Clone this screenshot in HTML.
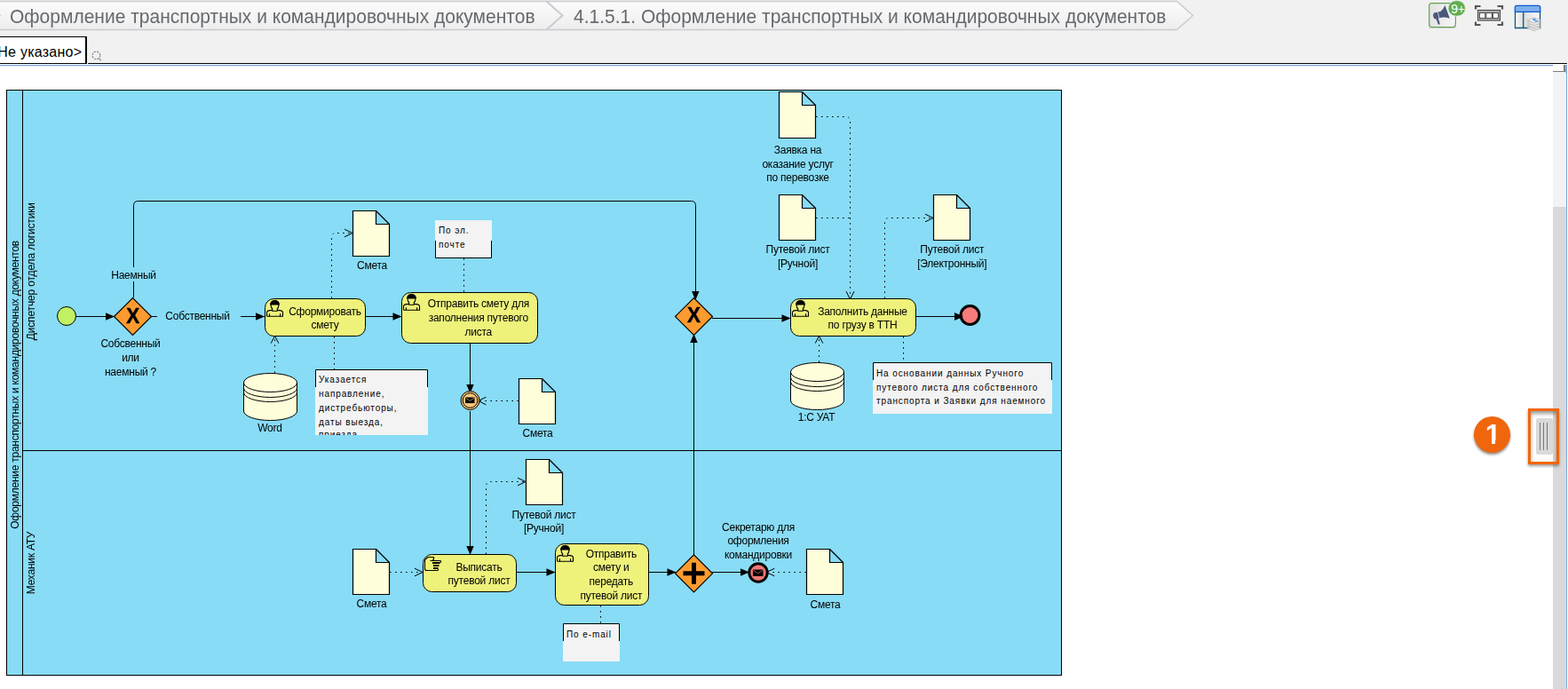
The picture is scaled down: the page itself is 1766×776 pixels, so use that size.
<!DOCTYPE html>
<html lang="ru"><head><meta charset="utf-8"><title>Оформление транспортных и командировочных документов</title>
<style>
html,body{margin:0;padding:0}
body{width:1766px;height:776px;position:relative;overflow:hidden;background:#fff;font-family:"Liberation Sans",Arial,sans-serif}
#top{position:absolute;left:0;top:0;width:1766px;height:71px;background:#F1F1F1}
.crumb{position:absolute;top:6px;will-change:transform;transform:scaleY(1.065);transform-origin:0 20.3px;font-size:21px;line-height:26px;color:#666A6E;white-space:nowrap}
#blk{position:absolute;left:99px;top:71px;width:1666px;height:1px;background:#000}
#blu2{position:absolute;left:0;top:74px;width:1749px;height:1px;background:#D5E3F3}
#blu{position:absolute;left:0;top:73px;width:1749px;height:1px;background:#7DA7D9}
#tab{position:absolute;left:-4px;top:41px;width:102px;height:31px;border:1px solid #000;border-right-width:2px;background:#fff;box-sizing:border-box;font-size:16px;line-height:32px;letter-spacing:0.25px;white-space:nowrap;color:#000;overflow:hidden}
#tab span{position:absolute;right:3.7px;top:1px}
#sb{position:absolute;left:1749px;top:74px;width:15px;height:702px;background:#F2F3F3}
#sb2{position:absolute;left:1749px;top:233px;width:15px;height:543px;background:#D9D9D9}
#sbr{position:absolute;left:1764px;top:73px;width:1px;height:703px;background:#7DA7D9}
#sbt{position:absolute;left:1749px;top:73px;width:12px;height:6.5px;background:#FBFBFB;border-right:2px solid #808080;border-bottom:1.5px solid #7C7C7C}
#sbb{position:absolute;left:1763px;top:73px;width:1px;height:9px;background:#8DB2DF}
#one{position:absolute;left:1660px;top:469px;width:41px;height:41px;border-radius:50%;background:#F0660D;color:#fff;font-weight:bold;font-size:31px;line-height:41px;text-align:center;text-indent:2px;box-shadow:0 2px 3px rgba(0,0,0,.45)}
#one span{position:relative;display:inline-block;text-indent:0}
#one i{position:absolute;top:26.5px;height:7px;background:#F0660D}
#hl{position:absolute;left:1721px;top:460px;width:35px;height:63px;box-sizing:border-box;border:3px solid #F0660D;box-shadow:0 2px 3px rgba(0,0,0,.4), inset 0 3px 4px rgba(0,0,0,.4)}
#hd{position:absolute;left:1730px;top:471px;width:19px;height:41px;background:#DADADA;border-radius:2px}
#hd i{position:absolute;top:5px;width:1px;height:31px;background:#777}
svg text{font-family:"Liberation Sans",Arial,sans-serif;fill:#000}
</style></head><body>
<div id="top">
<svg style="position:absolute;left:0;top:0" width="1400" height="36"><defs><linearGradient id="cg" x1="0" y1="0" x2="0" y2="1"><stop offset="0" stop-color="#FCFCFC"/><stop offset="1" stop-color="#EDEDEE"/></linearGradient></defs><path d="M-5 1.5H1325.5L1343.5 17.5L1325.5 33.5H-5Z" fill="url(#cg)" stroke="#C8CBD0" stroke-width="1.4"/><path d="M615.5 1.5L633.5 17.5L615.5 33.5" fill="none" stroke="#C8CBD0" stroke-width="2"/><path d="M-4 13.5L0.3 17.5L-4 21.5" fill="none" stroke="#C8CBD0" stroke-width="1.5"/></svg>
<div class="crumb" style="left:11px">Оформление транспортных и командировочных документов</div>
<div class="crumb" style="left:645.5px">4.1.5.1. Оформление транспортных и командировочных документов</div>
<div id="tab"><span>&lt;Не указано&gt;</span></div>
</div>
<div id="blk"></div><div id="blu"></div><div id="blu2"></div>
<div id="sb"></div><div id="sb2"></div><div id="sbr"></div><div id="sbt"></div><div id="sbb"></div>
<svg id="dg" style="position:absolute;left:0;top:0" width="1210" height="776" viewBox="0 0 1210 776">
<rect x="7.5" y="101.5" width="1188" height="659" fill="#88DCF6" stroke="#000"/>
<path d="M25.5 101.5V760.5" fill="none" stroke="#000" stroke-width="1"/>
<path d="M25.5 507.5H1195.5" fill="none" stroke="#000" stroke-width="1"/>
<path d="M86 356.5H128" fill="none" stroke="#000" stroke-width="1"/>
<polygon points="129,356.5 119,352.3 119,360.7" fill="#000"/>
<path d="M150.5 335V231.5Q150.5 226.5 155.5 226.5H778.5Q783.5 226.5 783.5 231.5V335" fill="none" stroke="#000" stroke-width="1"/>
<polygon points="783.3,338 779.1,328 787.5,328" fill="#000"/>
<rect x="125" y="301" width="52" height="16" fill="#88DCF6"/>
<path d="M170 356.5H298" fill="none" stroke="#000" stroke-width="1"/>
<polygon points="298,356.5 288,352.3 288,360.7" fill="#000"/>
<rect x="177" y="348" width="94" height="16" fill="#88DCF6"/>
<path d="M412 356.5H452" fill="none" stroke="#000" stroke-width="1"/>
<polygon points="452.5,356.5 442.5,352.3 442.5,360.7" fill="#000"/>
<path d="M529.5 387V440" fill="none" stroke="#000" stroke-width="1"/>
<polygon points="529.5,443 525.3,433 533.7,433" fill="#000"/>
<path d="M529.5 463V624" fill="none" stroke="#000" stroke-width="1"/>
<polygon points="529.5,625 525.3,615 533.7,615" fill="#000"/>
<path d="M582 644.5H625" fill="none" stroke="#000" stroke-width="1"/>
<polygon points="625.5,644.5 615.5,640.3 615.5,648.7" fill="#000"/>
<path d="M731 644.5H761" fill="none" stroke="#000" stroke-width="1"/>
<polygon points="761.5,644.5 751.5,640.3 751.5,648.7" fill="#000"/>
<path d="M781.5 625V378" fill="none" stroke="#000" stroke-width="1"/>
<polygon points="781.5,376 777.3,386 785.7,386" fill="#000"/>
<path d="M802 644.5H842" fill="none" stroke="#000" stroke-width="1"/>
<polygon points="844,644.5 834,640.3 834,648.7" fill="#000"/>
<path d="M802 358.5H890" fill="none" stroke="#000" stroke-width="1"/>
<polygon points="890.5,358.5 880.5,354.3 880.5,362.7" fill="#000"/>
<path d="M1032 356.5H1080" fill="none" stroke="#000" stroke-width="1"/>
<polygon points="1085,356.5 1075,352.3 1075,360.7" fill="#000"/>
<path d="M373.5 336V267.5Q373.5 262.5 378.5 262.5H397" fill="none" stroke="#000" stroke-width="1" stroke-dasharray="1.6 4.4" />
<path d="M388 258.2L397 262.5L388 266.8" fill="none" stroke="#000" stroke-width="1"/>
<path d="M309.5 420V379" fill="none" stroke="#000" stroke-width="1" stroke-dasharray="1.6 4.4" />
<path d="M305.2 386.59999999999997L309.5 378.4L313.8 386.59999999999997" fill="none" stroke="#000" stroke-width="1"/>
<path d="M376.5 379V416" fill="none" stroke="#000" stroke-width="1" stroke-dasharray="1.6 4.4" />
<path d="M522.5 291V329" fill="none" stroke="#000" stroke-width="1" stroke-dasharray="1.6 4.4" />
<path d="M584 451.5H541" fill="none" stroke="#000" stroke-width="1" stroke-dasharray="1.6 4.4" />
<path d="M547.5 447.2L538.5 451.5L547.5 455.8" fill="none" stroke="#000" stroke-width="1"/>
<path d="M547.5 624V547.5Q547.5 542.5 552.5 542.5H592" fill="none" stroke="#000" stroke-width="1" stroke-dasharray="1.6 4.4" />
<path d="M583 538.2L592 542.5L583 546.8" fill="none" stroke="#000" stroke-width="1"/>
<path d="M439 644.5H476" fill="none" stroke="#000" stroke-width="1" stroke-dasharray="1.6 4.4" />
<path d="M467 640.2L476 644.5L467 648.8" fill="none" stroke="#000" stroke-width="1"/>
<path d="M676.5 682V702" fill="none" stroke="#000" stroke-width="1" stroke-dasharray="1.6 4.4" />
<path d="M908 644.5H867" fill="none" stroke="#000" stroke-width="1" stroke-dasharray="1.6 4.4" />
<path d="M872.3 640.2L863.3 644.5L872.3 648.8" fill="none" stroke="#000" stroke-width="1"/>
<path d="M919 131.5H952.5Q957.5 131.5 957.5 136.5V336" fill="none" stroke="#000" stroke-width="1" stroke-dasharray="1.6 4.4" />
<path d="M953.0 328.2L957.5 337L962.0 328.2" fill="none" stroke="#000" stroke-width="1"/>
<path d="M919 245.5H957" fill="none" stroke="#000" stroke-width="1" stroke-dasharray="1.6 4.4" />
<path d="M996.5 336V250.5Q996.5 245.5 1001.5 245.5H1051" fill="none" stroke="#000" stroke-width="1" stroke-dasharray="1.6 4.4" />
<path d="M1042 241.2L1051 245.5L1042 249.8" fill="none" stroke="#000" stroke-width="1"/>
<path d="M922.5 408V380" fill="none" stroke="#000" stroke-width="1" stroke-dasharray="1.6 4.4" />
<path d="M918.2 386.59999999999997L922.5 378.4L926.8 386.59999999999997" fill="none" stroke="#000" stroke-width="1"/>
<path d="M1017.5 379V408" fill="none" stroke="#000" stroke-width="1" stroke-dasharray="1.6 4.4" />
<circle cx="75" cy="356" r="10.5" fill="#C2F063" stroke="#000"/>
<path d="M128.5 356.5L149.5 335.5L170.5 356.5L149.5 377.5Z" fill="#FD9B30" stroke="#000" stroke-width="1.2"/>
<path d="M760.5 356.5L781.5 335.5L802.5 356.5L781.5 377.5Z" fill="#FD9B30" stroke="#000" stroke-width="1.2"/>
<path d="M760.5 645.8L781.5 624.8L802.5 645.8L781.5 666.8Z" fill="#FD9B30" stroke="#000" stroke-width="1.2"/>
<path d="M769.5 645.7H793.5M781.5 633.7V657.7" stroke="#000" stroke-width="5" fill="none"/>



<rect x="298.5" y="336.5" width="113" height="42" rx="10" ry="10" fill="#EEF27B" stroke="#000"/>
<g transform="translate(300,338)" stroke="#000" stroke-width="1.1" fill="none"><path d="M0.5 18.3V14C0.5 12.3 2.5 11.4 6.6 11.4M12.4 11.4C16.5 11.4 18.5 12.3 18.5 14V18.3H0.5"/><path d="M3.4 18.3V15.2M15.6 18.3V15.2"/><path d="M5.2 4.9V6.4Q5.2 8.6 6.7 9.4V12.3H12.3V9.4Q13.8 8.6 13.8 6.4V4.9"/><path d="M4.6 5A4.9 4.8 0 0 1 14.4 5Z" fill="#000"/></g>


<rect x="452.5" y="329.5" width="153" height="57" rx="10" ry="10" fill="#EEF27B" stroke="#000"/>
<g transform="translate(454,331)" stroke="#000" stroke-width="1.1" fill="none"><path d="M0.5 18.3V14C0.5 12.3 2.5 11.4 6.6 11.4M12.4 11.4C16.5 11.4 18.5 12.3 18.5 14V18.3H0.5"/><path d="M3.4 18.3V15.2M15.6 18.3V15.2"/><path d="M5.2 4.9V6.4Q5.2 8.6 6.7 9.4V12.3H12.3V9.4Q13.8 8.6 13.8 6.4V4.9"/><path d="M4.6 5A4.9 4.8 0 0 1 14.4 5Z" fill="#000"/></g>



<rect x="890.5" y="336.5" width="141" height="42" rx="10" ry="10" fill="#EEF27B" stroke="#000"/>
<g transform="translate(892,338)" stroke="#000" stroke-width="1.1" fill="none"><path d="M0.5 18.3V14C0.5 12.3 2.5 11.4 6.6 11.4M12.4 11.4C16.5 11.4 18.5 12.3 18.5 14V18.3H0.5"/><path d="M3.4 18.3V15.2M15.6 18.3V15.2"/><path d="M5.2 4.9V6.4Q5.2 8.6 6.7 9.4V12.3H12.3V9.4Q13.8 8.6 13.8 6.4V4.9"/><path d="M4.6 5A4.9 4.8 0 0 1 14.4 5Z" fill="#000"/></g>


<rect x="476.5" y="624.5" width="105" height="42" rx="10" ry="10" fill="#EEF27B" stroke="#000"/>
<g transform="translate(478,627)" stroke="#000" stroke-width="1.1" fill="none"><path d="M0.5 3.5L4 0.5H10.5V3L9 4.5M6.5 4.5H18L18.7 5.5L17.5 7M0.5 3.5V13.5Q0.5 15.5 2.5 15.5H15L16 14"/><path d="M9 7H17.5M10 10H16.5M10 13H15.5" stroke-width="1.8"/></g>


<rect x="625.5" y="612.5" width="105" height="69" rx="10" ry="10" fill="#EEF27B" stroke="#000"/>
<g transform="translate(627,614)" stroke="#000" stroke-width="1.1" fill="none"><path d="M0.5 18.3V14C0.5 12.3 2.5 11.4 6.6 11.4M12.4 11.4C16.5 11.4 18.5 12.3 18.5 14V18.3H0.5"/><path d="M3.4 18.3V15.2M15.6 18.3V15.2"/><path d="M5.2 4.9V6.4Q5.2 8.6 6.7 9.4V12.3H12.3V9.4Q13.8 8.6 13.8 6.4V4.9"/><path d="M4.6 5A4.9 4.8 0 0 1 14.4 5Z" fill="#000"/></g>
<path d="M397.5 237.5H423.5V252.5H438.5V288.5H397.5Z" fill="#FEFEDA" stroke="#000" stroke-width="1.2"/><path d="M423.5 237.5L438.5 252.5" fill="none" stroke="#000" stroke-width="1.2"/>
<path d="M584.5 426.5H610.5V441.5H625.5V477.5H584.5Z" fill="#FEFEDA" stroke="#000" stroke-width="1.2"/><path d="M610.5 426.5L625.5 441.5" fill="none" stroke="#000" stroke-width="1.2"/>
<path d="M592.5 517.5H618.5V532.5H633.5V568.5H592.5Z" fill="#FEFEDA" stroke="#000" stroke-width="1.2"/><path d="M618.5 517.5L633.5 532.5" fill="none" stroke="#000" stroke-width="1.2"/>


<path d="M397.5 618.5H423.5V633.5H438.5V669.5H397.5Z" fill="#FEFEDA" stroke="#000" stroke-width="1.2"/><path d="M423.5 618.5L438.5 633.5" fill="none" stroke="#000" stroke-width="1.2"/>
<path d="M908.5 618.5H934.5V633.5H949.5V669.5H908.5Z" fill="#FEFEDA" stroke="#000" stroke-width="1.2"/><path d="M934.5 618.5L949.5 633.5" fill="none" stroke="#000" stroke-width="1.2"/>
<path d="M877.5 103.5H903.5V118.5H918.5V155.5H877.5Z" fill="#FEFEDA" stroke="#000" stroke-width="1.2"/><path d="M903.5 103.5L918.5 118.5" fill="none" stroke="#000" stroke-width="1.2"/>
<path d="M877.5 219.5H903.5V234.5H918.5V270.5H877.5Z" fill="#FEFEDA" stroke="#000" stroke-width="1.2"/><path d="M903.5 219.5L918.5 234.5" fill="none" stroke="#000" stroke-width="1.2"/>


<path d="M1051.5 219.5H1077.5V234.5H1092.5V270.5H1051.5Z" fill="#FEFEDA" stroke="#000" stroke-width="1.2"/><path d="M1077.5 219.5L1092.5 234.5" fill="none" stroke="#000" stroke-width="1.2"/>


<path d="M274.5 431.0A30.0 10.5 0 0 1 334.5 431.0V463.0A30.0 10.5 0 0 1 274.5 463.0Z" fill="#FEFEDA" stroke="#000"/><path d="M274.5 431.0A30.0 10.5 0 0 0 334.5 431.0" fill="none" stroke="#000"/><path d="M274.5 437.0A30.0 10.5 0 0 0 334.5 437.0" fill="none" stroke="#000"/><path d="M274.5 442.0A30.0 10.5 0 0 0 334.5 442.0" fill="none" stroke="#000"/>
<path d="M890.5 419.0A30.0 10.5 0 0 1 950.5 419.0V451.0A30.0 10.5 0 0 1 890.5 451.0Z" fill="#FEFEDA" stroke="#000"/><path d="M890.5 419.0A30.0 10.5 0 0 0 950.5 419.0" fill="none" stroke="#000"/><path d="M890.5 425.0A30.0 10.5 0 0 0 950.5 425.0" fill="none" stroke="#000"/><path d="M890.5 430.0A30.0 10.5 0 0 0 950.5 430.0" fill="none" stroke="#000"/>
<circle cx="529.5" cy="451" r="10.5" fill="#F5C574" stroke="#000"/>
<circle cx="529.5" cy="451" r="8.3" fill="#FAC67C" stroke="#000"/>
<rect x="524.0999999999999" y="447.5" width="10.4" height="6.6" fill="#000"/><path d="M524.5999999999999 448.3L529.3 451.40000000000003L533.9999999999999 448.3" fill="none" stroke="#F9C57B" stroke-width="0.7"/>
<circle cx="1092.5" cy="355" r="10.4" fill="#F77B7B" stroke="#000" stroke-width="3"/>
<polygon points="1085,356.5 1075,352.3 1075,360.7" fill="#000"/>
<circle cx="854" cy="645" r="10.2" fill="#F47676" stroke="#000" stroke-width="3"/>
<rect x="847.9000000000001" y="641.5" width="11.6" height="7.4" fill="#000"/><path d="M848.4000000000001 642.3L853.7 645.8000000000001L859.0000000000001 642.3" fill="none" stroke="#F47676" stroke-width="0.7"/>



<rect x="355" y="416" width="127" height="74" fill="#F3F3F4"/><path d="M355.5 436V416.5H481.5V436" fill="none" stroke="#000" stroke-width="1"/><svg x="355" y="416" width="127" height="74" overflow="hidden" font-size="10" letter-spacing="0.9" text-anchor="start"><text x="4" y="14.8">Указается</text><text x="4" y="31">направление,</text><text x="4" y="46.8">дистребьюторы,</text><text x="4" y="63">даты выезда,</text><text x="4" y="76.6">приезда</text></svg>
<rect x="490" y="248" width="64" height="43" fill="#F3F3F4"/><path d="M490.5 271V290.5H553.5V271" fill="none" stroke="#000" stroke-width="1"/><svg x="490" y="248" width="64" height="43" overflow="hidden" font-size="10" letter-spacing="0.9" text-anchor="start"><text x="4" y="14.7">По эл.</text><text x="4" y="30.7">почте</text></svg>
<rect x="634" y="702" width="64" height="43" fill="#F3F3F4"/><path d="M634.5 722V702.5H697.5V722" fill="none" stroke="#000" stroke-width="1"/><svg x="634" y="702" width="64" height="43" overflow="hidden" font-size="10" letter-spacing="0.9" text-anchor="start"><text x="4" y="16">По e-mail</text></svg>
<rect x="983" y="408" width="202" height="58" fill="#F3F3F4"/><path d="M983.5 428V408.5H1184.5V428" fill="none" stroke="#000" stroke-width="1"/><svg x="983" y="408" width="202" height="58" overflow="hidden" font-size="10" letter-spacing="0.9" text-anchor="start"><text x="4" y="15.7">На основании данных Ручного</text><text x="4" y="31.9">путевого листа для собственного</text><text x="4" y="46.8">транспорта и Заявки для наемного</text></svg>
</svg>
<svg id="lb" style="position:absolute;left:0;top:90px;will-change:transform" width="1210" height="686" viewBox="0 90 1210 686" letter-spacing="-0.24" font-size="12" text-anchor="middle">
<text transform="translate(21,433.4) rotate(-90)" letter-spacing="-0.255">Оформление транспортных и командировочных документов</text>
<text transform="translate(39,305.7) rotate(-90)" letter-spacing="-0.14">Диспетчер отдела логистики</text>
<text transform="translate(39,634) rotate(-90)" letter-spacing="-0.23">Механик АТУ</text>
<text x="150.5" y="313.5">Наемный</text>
<text x="222.5" y="359.5">Собственный</text>
<text transform="translate(149.7,363.5) scale(0.97,1)" font-size="23.1" font-weight="bold" letter-spacing="0" stroke="#000" stroke-width="0.5">X</text>
<text transform="translate(781.6,363.4) scale(0.97,1)" font-size="23.1" font-weight="bold" letter-spacing="0" stroke="#000" stroke-width="0.5">X</text>
<text x="147" y="390.5">Собсвенный</text>
<text x="147" y="406.5">или</text>
<text x="147" y="422.5">наемный ?</text>
<text x="366" y="354.5">Сформировать</text>
<text x="366" y="369.5">смету</text>
<text x="538.8" y="346">Отправить смету для</text>
<text x="538.8" y="362">заполнения путевого</text>
<text x="538.8" y="378">листа</text>
<text x="971.5" y="354.5">Заполнить данные</text>
<text x="971.5" y="369.5">по грузу в ТТН</text>
<text x="539.5" y="642.5">Выписать</text>
<text x="539.5" y="657.5">путевой лист</text>
<text x="688.3" y="627.5">Отправить</text>
<text x="688.3" y="642.8">смету и</text>
<text x="688.3" y="658.5">передать</text>
<text x="688.3" y="674.5">путевой лист</text>
<text x="419" y="303">Смета</text>
<text x="605.5" y="492">Смета</text>
<text x="612.5" y="584">Путевой лист</text>
<text x="612.5" y="599">[Ручной]</text>
<text x="418.5" y="683.7">Смета</text>
<text x="929.5" y="684.5">Смета</text>
<text x="898.5" y="172.6">Заявка на</text>
<text x="898.5" y="188.6">оказание услуг</text>
<text x="898.5" y="204">по перевозке</text>
<text x="898.5" y="284.6">Путевой лист</text>
<text x="898.5" y="300.6">[Ручной]</text>
<text x="1072.3" y="284.6">Путевой лист</text>
<text x="1072.3" y="300.6">[Электронный]</text>
<text x="304" y="486">Word</text>
<text x="919.5" y="474">1:С УАТ</text>
<text x="854" y="597.5">Секретарю для</text>
<text x="854" y="613.2">оформления</text>
<text x="854" y="628.9">командировки</text>
</svg>

<div id="one"><span>1<i style="left:0;width:7.2px"></i><i style="left:11.5px;width:6px"></i></span></div>
<div id="hd"><i style="left:4px"></i><i style="left:8px"></i><i style="left:12px"></i></div>
<div id="hl"></div>
<svg id="ico" style="position:absolute;left:1600px;top:0" width="166" height="40" viewBox="1600 0 166 40">
<defs>
<linearGradient id="gb" x1="0" y1="0" x2="1" y2="0"><stop offset="0" stop-color="#E2E2E4"/><stop offset="1" stop-color="#F6F6F6"/></linearGradient>
<linearGradient id="gw" x1="0" y1="0" x2="1" y2="0"><stop offset="0" stop-color="#FFFFFF"/><stop offset="1" stop-color="#D8D8D8"/></linearGradient>
<linearGradient id="gr" x1="0" y1="0" x2="1" y2="0"><stop offset="0" stop-color="#DCDCDC"/><stop offset="1" stop-color="#FAFAFA"/></linearGradient>
</defs>
<rect x="1609.6" y="3.6" width="29.8" height="27" rx="3" fill="url(#gb)" stroke="#62A44E" stroke-width="1.15"/>
<path d="M1609 31.6H1640" stroke="#B9B4C0" stroke-width="0.8" opacity=".6"/>
<path d="M1627.5 5.9C1625.5 10.5 1623 13 1620 13.6L1616 14.3C1614.3 14.8 1613.8 16.5 1614.3 18.5C1614.8 20.8 1615.8 21.7 1617.5 21.4L1619.8 27.3C1620.3 28.2 1622 27.7 1621.7 26.6L1619.9 20.8L1621.2 20.2C1624.5 19.2 1628.5 19.3 1632.8 20.7Z" fill="#4A5979"/>
<path d="M1619.3 13.6L1621 20.4" stroke="#E6E6E8" stroke-width="0.8" fill="none"/>
<rect x="1631" y="0.7" width="19.4" height="17.4" rx="8.7" fill="#5FAE4E" stroke="#E9ECE9" stroke-width="0.8"/>
<text x="1642" y="14.6" font-size="14" text-anchor="middle" fill="#fff" style="fill:#fff;font-family:'Liberation Sans',Arial,sans-serif" letter-spacing="-0.3">9+</text>
<g fill="none" stroke="#555555" stroke-width="2.2">
<path d="M1662 10.5V7H1667.5M1686.5 7H1692V10.5M1662 24.5V28H1667.5M1686.5 28H1692V24.5"/>
</g>
<rect x="1664.5" y="11.5" width="25" height="11.5" fill="#B4B4B4" stroke="#4F4F4F" stroke-width="1.2"/>
<g fill="#fff" stroke="#4F4F4F" stroke-width="1.1">
<rect x="1666.5" y="14.5" width="6.3" height="6"/><rect x="1673.8" y="14.5" width="6.6" height="6"/><rect x="1681.4" y="14.5" width="6.1" height="6"/>
</g>
<rect x="1706.5" y="13" width="9" height="18.5" fill="url(#gw)"/>
<rect x="1715.5" y="13" width="19" height="18.5" fill="url(#gr)"/>
<path d="M1706.5 13.5V31.5H1734.5V13.5M1715.7 13.5V31.5" fill="none" stroke="#0B5879" stroke-width="1.3"/>
<path d="M1706.3 13.3V8.3Q1706.3 6.3 1708.3 6.3H1732.7Q1734.7 6.3 1734.7 8.3V13.3Z" fill="#7DB0EA" stroke="#0B57D6" stroke-width="1.3"/>
<path d="M1728 28.5L1719.8 31.5L1728 34.7L1736 31.5Z" fill="#E0E0E0" stroke="#A8A8A8" stroke-width="0.6"/>
<path d="M1728 25.5L1719.8 28.5L1728 31.7L1736 28.5Z" fill="#E4E4E4" stroke="#A8A8A8" stroke-width="0.6"/>
<path d="M1728 22.5L1719.8 25.5L1728 28.7L1736 25.5Z" fill="#E8E8E8" stroke="#A8A8A8" stroke-width="0.6"/>
<path d="M1728 19.8L1719.8 22.8L1728 26L1736 22.8Z" fill="#EDEDED" stroke="#A8A8A8" stroke-width="0.6"/>
<path d="M1728 20.8L1725.5 21.8L1730 24.8L1733 23.6L1728.5 22.5L1730.5 21.7Z" fill="#4A9AE8"/>
</svg>
<svg style="position:absolute;left:100px;top:55px" width="18" height="16" viewBox="100 55 18 16"><circle cx="108.4" cy="62.4" r="4.3" fill="none" stroke="#8A8A8A" stroke-width="1.3" stroke-dasharray="2.2 1.2"/><path d="M111.4 65.6L113.8 68.4" stroke="#8A8A8A" stroke-width="1.2"/></svg>
</body></html>
